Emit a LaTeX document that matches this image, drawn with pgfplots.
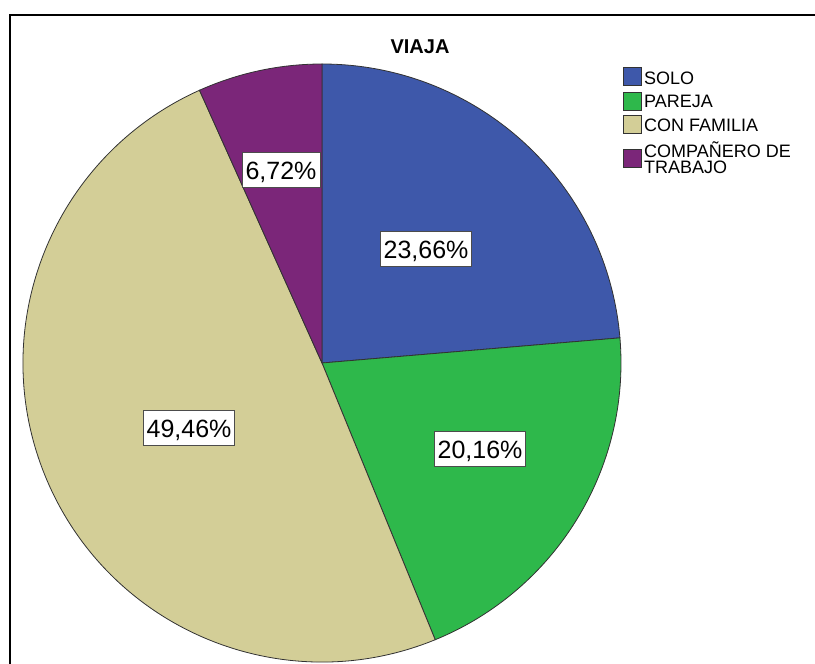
\documentclass[border=0pt]{standalone}
\usepackage{pgfplots}
\pgfplotsset{compat=1.18}
\usepackage{pgfplotstable}
\usepackage{fontspec}
\setmainfont{Liberation Sans}

\definecolor{cSolo}{RGB}{62,88,170}
\definecolor{cPareja}{RGB}{46,184,75}
\definecolor{cFamilia}{RGB}{211,206,151}
\definecolor{cComp}{RGB}{123,38,121}
\definecolor{edge}{RGB}{50,50,50}

\pgfplotstableread{
cat value
SOLO 23.66
PAREJA 20.16
FAMILIA 49.46
COMP 6.72
}\datatable

\begin{document}
\begin{tikzpicture}
\pgfplotstablegetelem{0}{value}\of\datatable \let\vA\pgfplotsretval
\pgfplotstablegetelem{1}{value}\of\datatable \let\vB\pgfplotsretval
\pgfplotstablegetelem{2}{value}\of\datatable \let\vC\pgfplotsretval
\pgfplotstablegetelem{3}{value}\of\datatable \let\vD\pgfplotsretval
\pgfmathsetmacro{\aA}{90-3.6*\vA}
\pgfmathsetmacro{\aB}{\aA-3.6*\vB}
\pgfmathsetmacro{\aC}{\aB-3.6*\vC}
\pgfmathsetmacro{\aD}{\aC-3.6*\vD}
\begin{axis}[
  scale only axis, width=815pt, height=664pt,
  xmin=0, xmax=815, ymin=0, ymax=664,
  hide axis, clip=false,
]
% frame
\draw[line width=1.6pt, black] (axis cs:10,0) -- (axis cs:10,649) -- (axis cs:815,649);
% wedges
\filldraw[fill=cSolo, draw=edge, line width=0.8pt] (axis cs:322,301) -- ++(90:299pt) arc[start angle=90, end angle=\aA, radius=299pt] -- cycle;
\filldraw[fill=cPareja, draw=edge, line width=0.8pt] (axis cs:322,301) -- ++(\aA:299pt) arc[start angle=\aA, end angle=\aB, radius=299pt] -- cycle;
\filldraw[fill=cFamilia, draw=edge, line width=0.8pt] (axis cs:322,301) -- ++(\aB:299pt) arc[start angle=\aB, end angle=\aC, radius=299pt] -- cycle;
\filldraw[fill=cComp, draw=edge, line width=0.8pt] (axis cs:322,301) -- ++(\aC:299pt) arc[start angle=\aC, end angle=\aD, radius=299pt] -- cycle;
% title
\node[font=\fontsize{20}{24}\selectfont\bfseries] at (axis cs:420,617) {VIAJA};
% slice labels
\tikzset{lab/.style={draw=gray!60!black, line width=0.8pt, fill=white, font=\fontsize{25}{30}\selectfont, text height=18.5pt, text depth=0pt, inner xsep=3.5pt, inner ysep=8.5pt}}
\node[lab] at (axis cs:426,415) {23,66\%};
\node[lab] at (axis cs:480,215) {20,16\%};
\node[lab] at (axis cs:189,236) {49,46\%};
\node[lab] at (axis cs:281,494) {6,72\%};
% legend
\tikzset{lsq/.style={draw=edge, line width=0.8pt}}
\filldraw[lsq, fill=cSolo] (axis cs:623,597) rectangle (axis cs:641,579);
\filldraw[lsq, fill=cPareja] (axis cs:623,572) rectangle (axis cs:641,554);
\filldraw[lsq, fill=cFamilia] (axis cs:623,549) rectangle (axis cs:641,531);
\filldraw[lsq, fill=cComp] (axis cs:623,515) rectangle (axis cs:641,497);
\tikzset{ltx/.style={anchor=base west, inner sep=0pt, font=\fontsize{18}{16}\selectfont}}
\node[ltx] at (axis cs:644,579) {SOLO};
\node[ltx] at (axis cs:644,556) {PAREJA};
\node[ltx] at (axis cs:644,532) {CON FAMILIA};
\node[ltx, anchor=south west, align=left, font=\fontsize{18}{16.5}\selectfont] at (axis cs:644,490) {COMPAÑERO DE\\TRABAJO};
\end{axis}
\pgfresetboundingbox
\path (current axis.south west) rectangle (current axis.north east);
\end{tikzpicture}
\end{document}
